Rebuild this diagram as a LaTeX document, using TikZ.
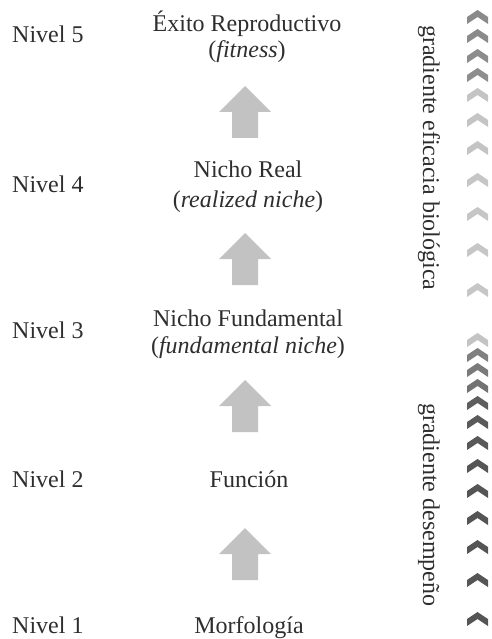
\documentclass[tikz,border=0pt]{standalone}
\usepackage{fontspec}
\setmainfont{Liberation Serif}
\definecolor{arrowgray}{HTML}{C2C2C2}
\definecolor{txt}{HTML}{2E2E2E}
\tikzset{
  x=1pt,y=1pt,
  lbl/.style={anchor=base,inner sep=0pt,text=txt,font=\fontsize{24}{26}\selectfont},
  lvl/.style={anchor=base west,inner sep=0pt,text=txt,font=\fontsize{24}{26}\selectfont},
  vlbl/.style={anchor=base west,rotate=-90,inner sep=0pt,text=txt,font=\fontsize{24}{26}\selectfont},
  uparrow/.pic={\fill[arrowgray] (-13,0) -- (13,0) -- (13,26) -- (26,26) -- (0,52) -- (-26,26) -- (-13,26) -- cycle;},
  chev/.pic={\fill (0,0) -- (10.5,-7) -- (10.5,-14) -- (0,-7) -- (-10.5,-14) -- (-10.5,-7) -- cycle;}
}
\begin{document}
\begin{tikzpicture}
\useasboundingbox (0,0) rectangle (491,-639);
% level labels
\node[lvl] (n5) at (12,-43) {Nivel 5};
\node[lvl] (n4) at (12,-193) {Nivel 4};
\node[lvl] (n3) at (12,-338) {Nivel 3};
\node[lvl] (n2) at (12,-487) {Nivel 2};
\node[lvl] (n1) at (12,-633) {Nivel 1};
% central texts
\node[lbl] (l5a) at (247,-32) {Éxito Reproductivo};
\node[lbl] (l5b) at (247,-58) {(\textit{fitness})};
\node[lbl] (l4a) at (248,-178) {Nicho Real};
\node[lbl] (l4b) at (248,-207) {(\textit{realized niche})};
\node[lbl] (l3a) at (248,-326) {Nicho Fundamental};
\node[lbl] (l3b) at (248,-353) {(\textit{fundamental niche})};
\node[lbl] (l2) at (249,-487) {Función};
\node[lbl] (l1) at (249,-633) {Morfología};
% block arrows
\coordinate (a1) at (245,-138);
\coordinate (a2) at (245,-285);
\coordinate (a3) at (245,-432);
\coordinate (a4) at (245,-580);
\pic at (a1) {uparrow};
\pic at (a2) {uparrow};
\pic at (a3) {uparrow};
\pic at (a4) {uparrow};
% vertical labels
\node[vlbl] (g1) at (423,-25) {gradiente eficacia biológica};
\node[vlbl] (g2) at (423,-403) {gradiente desempeño};
% chevrons upper group
\foreach \y/\c in {10/8A8A8A,29/8A8A8A,49/8C8C8C,68/8E8E8E,88/C4C4C4,113/C4C4C4,141/C4C4C4,173/C6C6C6,207/C6C6C6,243/C6C6C6,283/C6C6C6}{
  \definecolor{cc}{HTML}{\c}
  \pic[fill=cc] at (477.5,-\y) {chev};
}
% chevrons lower group
\foreach \y/\c in {333/C4C4C4,348/808080,363/7A7A7A,379/737373,396/5E5E5E,415/5A5A5A,436/585858,459/565656,484/555555,511/555555,540/555555,573/555555,612/555555}{
  \definecolor{cc}{HTML}{\c}
  \pic[fill=cc] at (477.5,-\y) {chev};
}
\end{tikzpicture}
\end{document}
